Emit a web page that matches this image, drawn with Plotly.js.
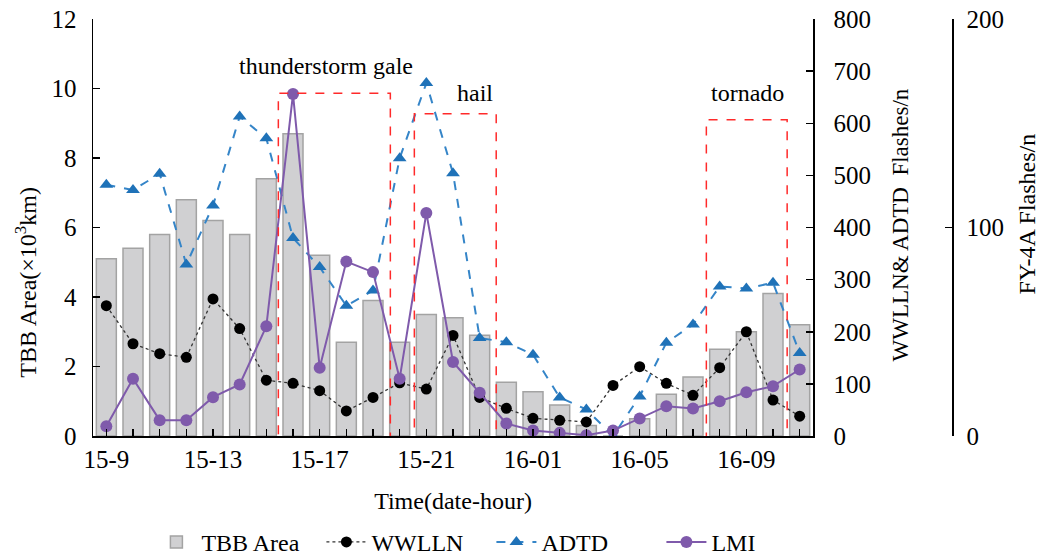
<!DOCTYPE html>
<html>
<head>
<meta charset="utf-8">
<script src="https://cdn.plot.ly/plotly-3.0.1.min.js"></script>
<style>html,body{margin:0;padding:0;background:#fff;}#chart{width:1042px;height:558px;}</style>
</head>
<body>
<div id="chart"></div>
<script>
// Time categories (date-hour)
const hours = ["15-9","15-10","15-11","15-12","15-13","15-14","15-15","15-16","15-17","15-18","15-19","15-20","15-21","15-22","15-23",
               "16-00","16-01","16-02","16-03","16-04","16-05","16-06","16-07","16-08","16-09","16-10","16-11"];
// Labels shown on x axis
const shownLabels = ["15-9","15-13","15-17","15-21","16-01","16-05","16-09"];

// TBB Area (x10^3 km)
const tbbArea = [5.1,5.4,5.8,6.8,6.2,5.8,7.4,8.7,5.2,2.7,3.9,2.7,3.5,3.4,2.9,
                 1.55,1.27,0.89,0.3,0,0.5,1.2,1.7,2.5,3.0,4.1,3.2];
// WWLLN flashes
const wwlln = [250,177,158,151,263,206,107,101,87,48,74,102,90,193,74,
               53,34,30,27,97,133,101,78,131,200,69,38];
// ADTD flashes
const adtd = [482,472,503,329,442,613,571,380,324,250,279,533,677,504,188,
              180,156,74,51,0,76,179,214,287,283,294,159];
// FY-4A LMI flashes
const lmi = [4.7,27.5,7.6,7.6,18.6,24.7,52.6,164,32.7,83.7,78.6,27.5,107,35.5,20.7,
             6,2.6,1.5,0.4,2.6,8.4,14.3,13.2,16.7,21,23.9,31.9];

// Event boxes: [x0, x1, yTop] in category index / TBB units
const eventNames = ["thunderstorm gale","hail","tornado"];
const eventBoxes = [[6.45,10.65,9.86],[11.55,14.62,9.27],[22.5,25.53,9.1]];
const eventLabelPos = [[8.25,10.65],[13.84,9.87],[24.03,9.87]];

const FONT = "Liberation Serif, Times New Roman, serif";

const traces = [
  {type:"bar", name:"TBB Area", x:hours, y:tbbArea, yaxis:"y", width:0.75,
   marker:{color:"#d0d0d2", line:{color:"#a3a3a3", width:1.5}}},
  {type:"scatter", mode:"lines+markers", name:"WWLLN", x:hours, y:wwlln, yaxis:"y2",
   line:{color:"#333333", width:1.3, dash:"dot"}, marker:{color:"#000000", size:11, symbol:"circle"}},
  {type:"scatter", mode:"lines+markers", name:"ADTD", x:hours, y:adtd, yaxis:"y2",
   line:{color:"#3585c8", width:2, dash:"dash"}, marker:{color:"#1f72b8", size:12, symbol:"triangle-up"}},
  {type:"scatter", mode:"lines+markers", name:"LMI", x:hours, y:lmi, yaxis:"y3",
   line:{color:"#7f5aab", width:2}, marker:{color:"#7f5aab", size:12, symbol:"circle"}}
];

const shapes = eventBoxes.map(b => ({
  type:"rect", xref:"x", yref:"y", x0:b[0], x1:b[1], y0:-0.04, y1:b[2],
  line:{color:"#ff2a2a", width:1.5, dash:"dash"}, fillcolor:"rgba(0,0,0,0)", layer:"above"
}));

const annotations = eventNames.map((t,i) => ({
  text:t, xref:"x", yref:"y", x:eventLabelPos[i][0], y:eventLabelPos[i][1],
  xanchor:"center", yanchor:"middle",
  showarrow:false, font:{family:FONT, size:24, color:"#000"}
}));
annotations.push(
  {text:"TBB Area(×10<sup>3</sup>km)", xref:"paper", yref:"paper", x:-0.079, y:0.368, textangle:-90,
   xanchor:"center", yanchor:"middle", showarrow:false, font:{family:FONT, size:24, color:"#000"}},
  {text:"WWLLN& ADTD  Flashes/n", xref:"paper", yref:"paper", x:0.9395, y:0.505, textangle:-90,
   xanchor:"center", yanchor:"middle", showarrow:false, font:{family:FONT, size:23, color:"#000"}},
  {text:"FY-4A Flashes/n", xref:"paper", yref:"paper", x:1.087, y:0.533, textangle:-90,
   xanchor:"center", yanchor:"middle", showarrow:false, font:{family:FONT, size:24, color:"#000"}}
);

const axisCommon = {showgrid:false, zeroline:false, showline:true, linecolor:"#000", linewidth:1.5,
  ticks:"inside", ticklen:7, tickwidth:1.5, tickcolor:"#000",
  tickfont:{family:FONT, size:25, color:"#000"}};

const layout = {
  width:1042, height:558,
  margin:{l:93, r:90, t:19, b:121.5, autoexpand:false},
  paper_bgcolor:"#fff", plot_bgcolor:"#fff",
  font:{family:FONT, color:"#000"},
  showlegend:true,
  legend:{orientation:"h", x:0.068, xanchor:"left", y:-0.255, yanchor:"middle",
          entrywidth:115, entrywidthmode:"pixels", itemwidth:40,
          font:{family:FONT, size:24, color:"#000"}, bgcolor:"rgba(0,0,0,0)"},
  xaxis:Object.assign({}, axisCommon, {type:"category", domain:[0,0.8382], range:[-0.5,26.5],
    tickmode:"array", tickvals:hours, ticktext:hours.map(h => shownLabels.includes(h) ? h : ""),
    title:{text:"Time(date-hour)", font:{family:FONT, size:24, color:"#000"}, standoff:20}}),
  yaxis:Object.assign({}, axisCommon, {range:[0,12], tickvals:[0,2,4,6,8,10,12], ticklabelstandoff:10}),
  yaxis2:Object.assign({}, axisCommon, {range:[0,800], overlaying:"y", side:"right", anchor:"x",
    tickvals:[0,100,200,300,400,500,600,700,800], ticklabelstandoff:14}),
  yaxis3:Object.assign({}, axisCommon, {range:[0,200], overlaying:"y", side:"right", anchor:"free", position:1,
    tickvals:[0,100,200], ticklabelstandoff:8}),
  bargap:0.25,
  shapes:shapes,
  annotations:annotations
};

Plotly.newPlot("chart", traces, layout, {displayModeBar:false, staticPlot:true});
</script>
</body>
</html>
